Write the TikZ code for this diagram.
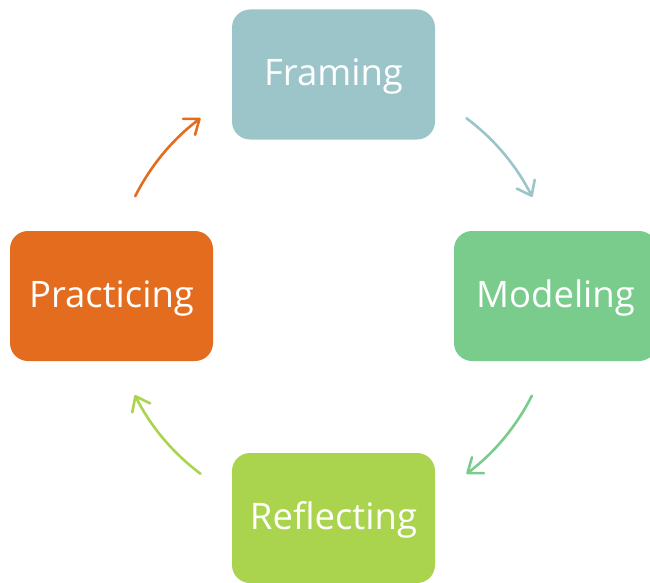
\documentclass[tikz,border=0pt]{standalone}
\usepackage{fontspec}
\setmainfont{Open Sans}
\usetikzlibrary{arrows.meta}
\definecolor{cFr}{HTML}{9CC5C9}
\definecolor{cMo}{HTML}{79CC8B}
\definecolor{cPr}{HTML}{E36C1E}
\definecolor{cRe}{HTML}{AAD44E}
\newcommand{\boxtext}[1]{\raisebox{-11pt}[0pt][0pt]{#1}}
\tikzset{
  box/.style={rectangle, rounded corners=18pt, minimum width=203pt, minimum height=130pt,
    inner sep=0pt, text=white, font=\fontsize{36.5}{40}\selectfont},
  cyc/.style={line width=2.6pt, line cap=round,
    -{Straight Barb[length=13pt,width=20pt,line width=2.6pt,round]}},
}
\begin{document}
\begin{tikzpicture}[x=1pt,y=-1pt]
\useasboundingbox (0,0) rectangle (650,583);
\clip (0,0) rectangle (650,583);
\coordinate (c) at (333.5,296);
\node[box, fill=cFr] (fr) at (333.5,74.5) {\boxtext{Framing}};
\node[box, fill=cMo] (mo) at (555.5,296) {\boxtext{Modeling}};
\node[box, fill=cPr] (pr) at (111.5,296) {\boxtext{Practicing}};
\node[box, fill=cRe] (re) at (333.5,518) {\boxtext{Reflecting}};
\begin{scope}[y=1pt]
\draw[cyc, cFr] ([shift={(53.2:222)}]c) arc[start angle=53.2, end angle=26.5, radius=222];
\draw[cyc, cMo] ([shift={(-26.7:222)}]c) arc[start angle=-26.7, end angle=-53.2, radius=222];
\draw[cyc, cRe] ([shift={(-126.8:222)}]c) arc[start angle=-126.8, end angle=-153.5, radius=222];
\draw[cyc, cPr] ([shift={(153.3:222)}]c) arc[start angle=153.3, end angle=126.8, radius=222];
\end{scope}
\end{tikzpicture}
\end{document}
